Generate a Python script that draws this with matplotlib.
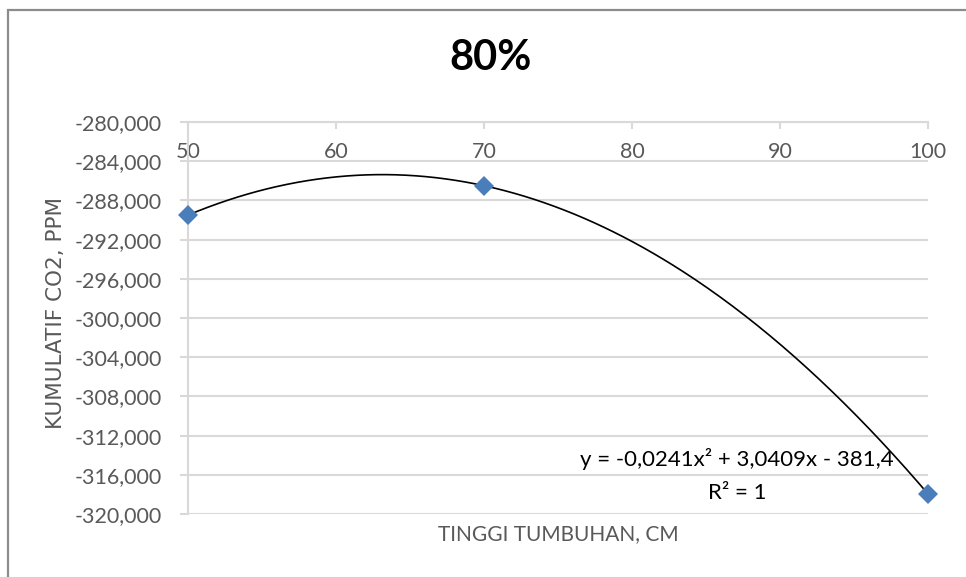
import numpy as np
import matplotlib
matplotlib.use("Agg")
import matplotlib.pyplot as plt
from matplotlib.ticker import FuncFormatter, MultipleLocator
from matplotlib.patches import Rectangle

# data
tinggi = [50, 70, 100]
co2 = [-289.5, -286.5, -317.95]

title = "80%"
x_title = "TINGGI TUMBUHAN, CM"
y_title = "KUMULATIF CO2, PPM"
eq_text = "y = -0,0241x\u00b2 + 3,0409x - 381,4"
r2_text = "R\u00b2 = 1"

plt.rcParams['font.family'] = ['Lato', 'DejaVu Sans']

fig = plt.figure(figsize=(9.66, 5.77), dpi=100)
ax = fig.add_axes([188 / 966, 1 - 514 / 577, 740 / 966, 392 / 577])

# chart frame (cropped on right and bottom)
fig.patches.append(Rectangle((8 / 966, -0.1), 1.2, 1 - 10 / 577 + 0.1,
                             transform=fig.transFigure, fill=False,
                             edgecolor='#8c8c8c', linewidth=1.6))

grid_c = '#d9d9d9'
text_c = '#595959'

# polynomial trendline (order 2) through the points
coef = np.polyfit(tinggi, co2, 2)
xs = np.linspace(min(tinggi), max(tinggi), 300)
ax.plot(xs, np.polyval(coef, xs), color='black', linewidth=1.2, zorder=3,
        clip_on=False)
ax.plot(tinggi, co2, linestyle='none', marker='D', markersize=10,
        color='#4a7ebb', markeredgewidth=0, zorder=4, clip_on=False)

ax.set_xlim(50, 100)
ax.set_ylim(-320, -280)
ax.xaxis.set_major_locator(MultipleLocator(10))
ax.yaxis.set_major_locator(MultipleLocator(4))
ax.yaxis.set_major_formatter(FuncFormatter(lambda v, p: f"{v:.3f}".replace('.', ',')))

ax.grid(axis='y', color=grid_c, linewidth=1.5)
ax.set_axisbelow(True)
for s in ['right', 'bottom']:
    ax.spines[s].set_visible(False)
for s in ['top', 'left']:
    ax.spines[s].set_color(grid_c)
    ax.spines[s].set_linewidth(1.5)

ax.xaxis.tick_top()
ax.tick_params(axis='x', direction='in', length=5, width=1.5, color=grid_c,
               labelsize=15.5, labelcolor=text_c, pad=-29)
ax.tick_params(axis='y', direction='out', length=6, width=1.5, color=grid_c,
               labelsize=15.5, labelcolor=text_c, pad=13)

ax.set_xlabel(x_title, fontsize=15, color=text_c)
ax.xaxis.set_label_position('bottom')
ax.xaxis.set_label_coords(0.5, (514 - 524) / 392)

ax.set_ylabel(y_title, fontsize=15.5, color=text_c, family='DejaVu Sans')
ax.yaxis.set_label_coords((66 - 188) / 740, (514 - 313) / 392)

fig.text(491 / 966, 1 - 58 / 577, title, fontsize=30, fontweight='bold',
         ha='center', va='center', color='black')

ax.text((737 - 188) / 740, (514 - 459) / 392, eq_text, transform=ax.transAxes,
        ha='center', va='center', fontsize=16, color='black')
ax.text((737 - 188) / 740, (514 - 493) / 392, r2_text, transform=ax.transAxes,
        ha='center', va='center', fontsize=16, color='black')

fig.savefig('out.png', dpi=100)
